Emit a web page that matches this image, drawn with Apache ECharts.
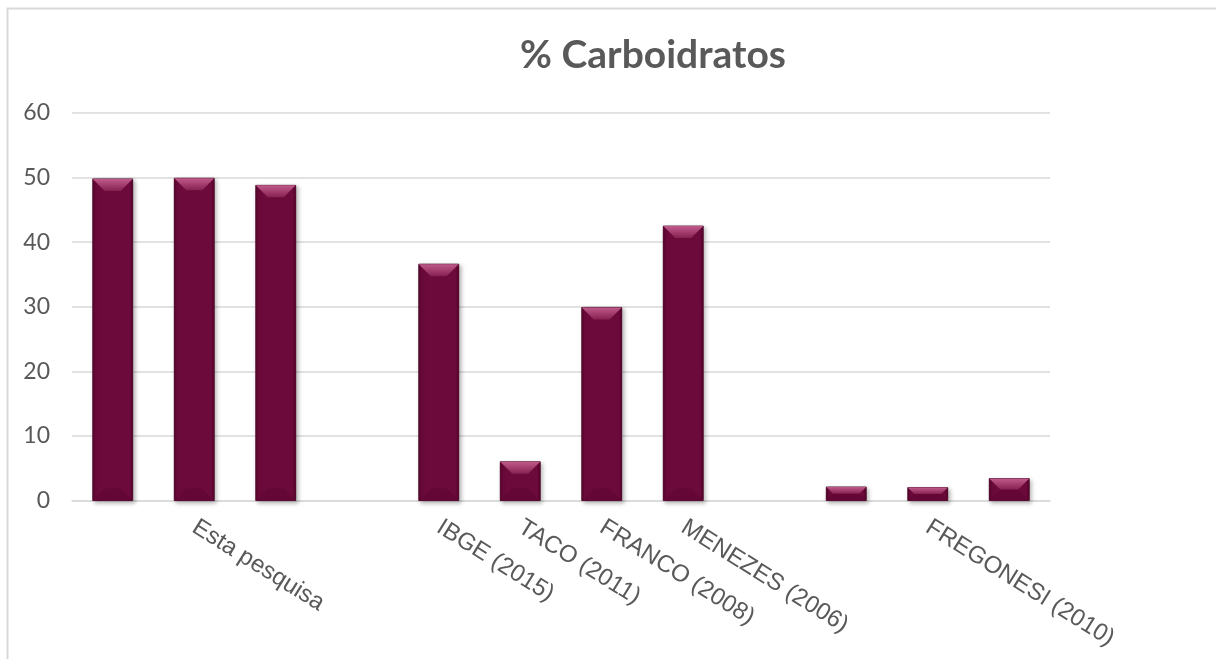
<!DOCTYPE html>
<html>
<head>
<meta charset="utf-8">
<script src="https://cdn.jsdelivr.net/npm/echarts@6/dist/echarts.min.js"></script>
<style>
  html, body { margin: 0; padding: 0; background: #ffffff; }
  #chart { width: 1216px; height: 659px; }
</style>
</head>
<body>
<div id="chart"></div>
<script>
// Category slots along the x axis (empty strings are unlabelled slots)
const categories = [
  '', 'Esta pesquisa', '', '',
  'IBGE (2015)', 'TACO (2011)', 'FRANCO (2008)', 'MENEZES (2006)',
  '', '', 'FREGONESI (2010)', ''
];
// % carbohydrates per slot (null = no bar)
const carbValues = [49.8, 49.9, 48.8, null, 36.6, 6.0, 29.9, 42.5, null, 2.1, 2.0, 3.4];
const yTicks = [0, 10, 20, 30, 40, 50, 60];

const BODY = '#6c0a3b';
const chart = echarts.init(document.getElementById('chart'));

// Bar with a bevelled top edge, positioned through the axis scales
function renderBevelBar(params, api) {
  const idx = api.value(0);
  const v = api.value(1);
  const top = api.coord([idx, v]);
  const base = api.coord([idx, 0]);
  const w = api.size([1, 0])[0] * 0.49;
  const x0 = top[0] - w / 2, x1 = top[0] + w / 2;
  const y0 = top[1], y1 = base[1];
  const h = y1 - y0;
  const d = Math.min(12, h / 2, w / 2);
  const s = Math.min(2, d);
  return {
    type: 'group',
    children: [
      {
        type: 'rect',
        shape: { x: x0, y: y0, width: w, height: h },
        style: {
          fill: BODY,
          stroke: '#3f0421',
          lineWidth: 0.8,
          shadowBlur: 4,
          shadowOffsetX: 2,
          shadowOffsetY: 2,
          shadowColor: 'rgba(0,0,0,0.28)'
        }
      },
      {
        type: 'polygon',
        shape: { points: [[x0, y1], [x1, y1], [x1 - d, y1 - d], [x0 + d, y1 - d]] },
        style: { fill: '#640736' }
      },
      {
        type: 'polygon',
        shape: { points: [[x0, y0], [x0 + s, y0 + s], [x0 + s, y1 - s], [x0, y1]] },
        style: { fill: '#5a062f' }
      },
      {
        type: 'polygon',
        shape: { points: [[x1, y0], [x1 - s, y0 + s], [x1 - s, y1 - s], [x1, y1]] },
        style: { fill: '#5a062f' }
      },
      {
        type: 'polygon',
        shape: { points: [[x0, y0], [x1, y0], [x1 - d, y0 + d], [x0 + d, y0 + d]] },
        style: {
          fill: new echarts.graphic.LinearGradient(0, 0, 0, 1, [
            { offset: 0, color: '#c05a8a' },
            { offset: 1, color: '#862252' }
          ])
        }
      }
    ]
  };
}

const barData = carbValues
  .map((v, i) => (v == null ? null : [i, v]))
  .filter(p => p !== null);

chart.setOption({
  animation: false,
  backgroundColor: '#ffffff',
  title: {
    text: '% Carboidratos',
    left: 648,
    textAlign: 'center',
    top: 31,
    textStyle: {
      fontFamily: 'Lato',
      fontWeight: 'bold',
      fontSize: 39,
      color: '#595959'
    }
  },
  graphic: [
    {
      type: 'polyline',
      shape: { points: [[7.5, 659], [7.5, 8.5], [1216, 8.5]] },
      style: { stroke: '#d9d9d9', lineWidth: 2, fill: null },
      silent: true
    }
  ],
  grid: { left: 72, right: 166, top: 113, bottom: 158.5, containLabel: false },
  xAxis: {
    type: 'category',
    data: categories,
    axisLine: { lineStyle: { color: '#d9d9d9', width: 1.5 } },
    axisTick: { show: false },
    axisLabel: {
      interval: 0,
      rotate: -32,
      margin: 25,
      color: '#595959',
      fontFamily: 'Liberation Sans',
      fontSize: 24
    }
  },
  yAxis: {
    type: 'value',
    min: yTicks[0],
    max: yTicks[yTicks.length - 1],
    interval: 10,
    axisLine: { show: false },
    axisTick: { show: false },
    axisLabel: {
      color: '#595959',
      fontFamily: 'Lato',
      fontSize: 23,
      margin: 22
    },
    splitLine: { lineStyle: { color: '#d9d9d9', width: 1.5 } }
  },
  series: [
    {
      type: 'custom',
      renderItem: renderBevelBar,
      encode: { x: 0, y: 1 },
      data: barData,
      clip: false
    }
  ]
});
</script>
</body>
</html>
